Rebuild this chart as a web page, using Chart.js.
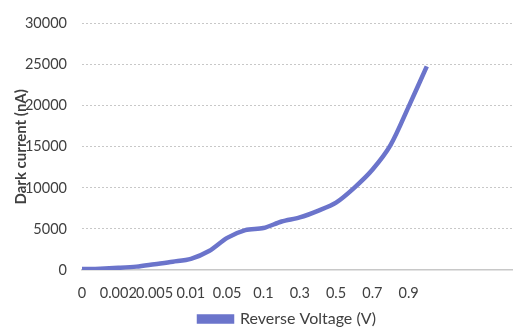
<!DOCTYPE html>
<html>
<head>
<meta charset="utf-8">
<script src="https://cdn.jsdelivr.net/npm/chart.js@4/dist/chart.umd.min.js"></script>
<style>
  html, body { margin: 0; padding: 0; background: #ffffff; overflow: hidden; }
  #wrap { position: relative; width: 513px; height: 333px; }
</style>
</head>
<body>
<div id="wrap"><canvas id="c" width="513" height="333"></canvas></div>
<script>
// Categories (reverse voltage, V) — every second one is labelled on the axis
const voltages = ['0', '0.001', '0.002', '0.003', '0.005', '0.007', '0.01', '0.03', '0.05', '0.07',
                  '0.1', '0.2', '0.3', '0.4', '0.5', '0.6', '0.7', '0.8', '0.9', '1'];
// Dark current (nA)
const darkCurrent = [100, 150, 250, 400, 700, 1000, 1350, 2300, 3900, 4850,
                     5100, 5900, 6400, 7200, 8200, 10000, 12200, 15200, 19900, 24800];
const labelStep = 2;
const yTicks = [0, 5000, 10000, 15000, 20000, 25000, 30000];
const seriesName = 'Reverse Voltage (V)';
const yTitle = 'Dark current (nA)';
const xMaxSlots = 23.75;

const FONT = 'Lato, "Liberation Sans", sans-serif';
const LINE = '#6b74cb';
const TEXT = '#404040';

const points = darkCurrent.map((v, i) => ({ x: i, y: v }));

const legendShift = {
  id: 'legendShift',
  afterLayout(chart) {
    const lg = chart.legend;
    if (lg) { lg.left -= 10; lg.right -= 10; lg.top += 4; lg.bottom += 4; }
  }
};

new Chart(document.getElementById('c'), {
  type: 'line',
  data: {
    datasets: [{
      label: seriesName,
      data: points,
      borderColor: LINE,
      backgroundColor: LINE,
      borderWidth: 4.5,
      pointRadius: 0,
      tension: 0.3,
      fill: false
    }]
  },
  plugins: [legendShift],
  options: {
    responsive: false,
    animation: false,
    devicePixelRatio: 1,
    layout: { padding: { top: 14.8, right: 0, left: 0, bottom: 0 } },
    plugins: {
      tooltip: { enabled: false },
      legend: {
        position: 'bottom',
        fullSize: false,
        labels: {
          boxWidth: 33,
          boxHeight: 5,
          color: TEXT,
          padding: 4,
          font: { family: FONT, size: 16 }
        }
      }
    },
    scales: {
      x: {
        type: 'linear',
        min: 0,
        max: xMaxSlots,
        grid: { display: false, drawTicks: false },
        border: { display: true, color: '#c8c8c8', width: 1.5 },
        afterBuildTicks: (s) => {
          s.ticks = voltages.map((_, i) => ({ value: i })).filter(t => t.value % labelStep === 0);
        },
        afterFit: (s) => { s.height = 33.1; },
        ticks: {
          autoSkip: false,
          maxRotation: 0,
          padding: 15,
          color: TEXT,
          font: { family: FONT, size: 14.5 },
          callback: (v) => voltages[v] !== undefined ? voltages[v] : ''
        }
      },
      y: {
        min: 0,
        max: 30000,
        afterBuildTicks: (s) => { s.ticks = yTicks.map(v => ({ value: v })); },
        afterFit: (s) => { s.width = 82; },
        grid: { color: '#c8c8c8', lineWidth: 1, drawTicks: false },
        border: { display: false, dash: [2, 2] },
        ticks: {
          padding: 15,
          color: TEXT,
          font: { family: FONT, size: 14.5 },
          callback: (v) => String(v)
        },
        title: {
          display: true,
          text: yTitle,
          color: TEXT,
          font: { family: FONT, size: 15, weight: 'bold' },
          padding: { top: 12.5, bottom: 0 }
        }
      }
    }
  }
});
</script>
</body>
</html>
